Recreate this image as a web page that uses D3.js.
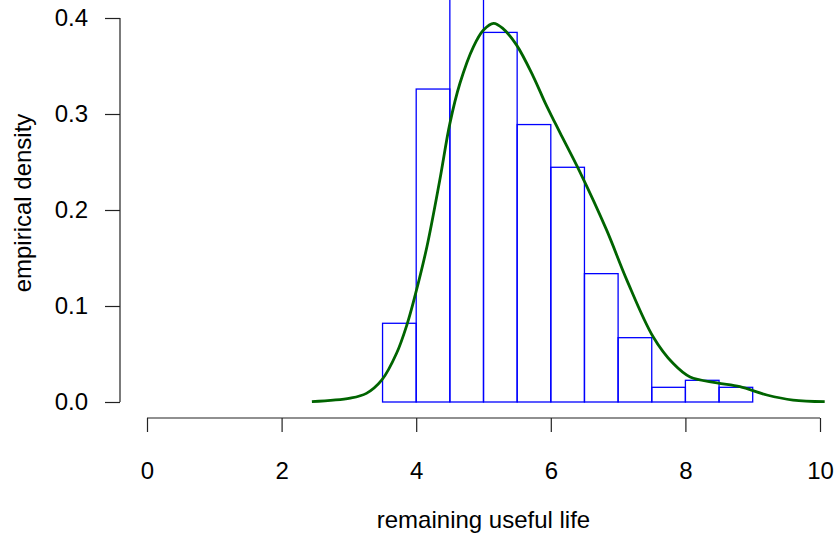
<!DOCTYPE html>
<html><head><meta charset="utf-8">
<script src="https://cdn.jsdelivr.net/npm/d3@7"></script>
<style>body{margin:0;background:#fff}svg{display:block}text{font-family:"Liberation Sans",Arial,sans-serif}</style>
</head><body><svg id="c" width="836" height="535"></svg>
<script>
const binStarts = [3.5,4.0,4.5,5.0,5.5,6.0,6.5,7.0,7.5,8.0,8.5];
const binWidth = 0.5;
const binDensity = [0.082,0.326,0.42,0.385,0.289,0.2445,0.1337,0.067,0.0153,0.0226,0.0153];
const curveX = [2.45,3.02,3.26,3.49,3.71,3.86,3.98,4.16,4.35,4.50,4.65,4.85,5.0,5.15,5.29,5.49,5.74,5.92,6.04,6.14,6.43,6.83,7.13,7.52,7.82,8.07,8.47,8.81,9.21,9.6,10.07];
const curveY = [0.0003,0.004,0.009,0.023,0.051,0.080,0.110,0.162,0.231,0.290,0.332,0.370,0.3875,0.3945,0.389,0.372,0.339,0.311,0.294,0.280,0.240,0.179,0.127,0.068,0.040,0.026,0.020,0.016,0.0073,0.002,0.0003];
const xTicks = [0,2,4,6,8,10];
const yTicks = [0,0.1,0.2,0.3,0.4];

const svg = d3.select("#c");
const x = d3.scaleLinear().domain([0,10]).range([147,820]);
const y = d3.scaleLinear().domain([0,0.4]).range([402,18]);
const fs = 24;
const ff = "Liberation Sans, Arial, sans-serif";

// bars
svg.append("g").selectAll("rect").data(binStarts).join("rect")
  .attr("x",(d)=>x(d)).attr("width",(d)=>x(d+binWidth)-x(d))
  .attr("y",(d,i)=>y(binDensity[i])).attr("height",(d,i)=>y(0)-y(binDensity[i]))
  .attr("fill","none").attr("stroke","#0000ff").attr("stroke-width",1.3);

// density curve
const pts = curveX.map((d,i)=>[d,curveY[i]]);
svg.append("path").datum(pts)
  .attr("d",d3.line().x(d=>x(d[0])).y(d=>y(d[1])).curve(d3.curveCatmullRom))
  .attr("fill","none").attr("stroke","#006400").attr("stroke-width",2.8);

// x axis
const xa = svg.append("g").attr("transform","translate(0,418)")
  .call(d3.axisBottom(x).tickValues(xTicks).tickSize(14).tickPadding(30).tickFormat(d3.format("d")));
xa.select(".domain").attr("d",`M${x(0)},0H${x(10)}`).attr("stroke","#222").attr("stroke-width",1.2);
xa.selectAll(".tick line").attr("stroke","#222").attr("stroke-width",1.2);
xa.selectAll("text").attr("font-size",fs).attr("fill","#000").style("font-family",ff);

// y axis
const ya = svg.append("g").attr("transform","translate(120,0)")
  .call(d3.axisLeft(y).tickValues(yTicks).tickSize(15).tickPadding(17).tickFormat(d3.format(".1f")));
ya.select(".domain").attr("d",`M0,${y(0)}V${y(0.4)}`).attr("stroke","#222").attr("stroke-width",1.2);
ya.selectAll(".tick line").attr("stroke","#222").attr("stroke-width",1.2);
ya.selectAll("text").attr("font-size",fs).attr("fill","#000").style("font-family",ff);

svg.append("text").attr("x",(x(0)+x(10))/2).attr("y",528).attr("text-anchor","middle")
  .attr("font-size",fs).text("remaining useful life");
svg.append("text").attr("transform",`translate(31,203) rotate(-90)`).attr("text-anchor","middle")
  .attr("font-size",fs).text("empirical density");
</script></body></html>
